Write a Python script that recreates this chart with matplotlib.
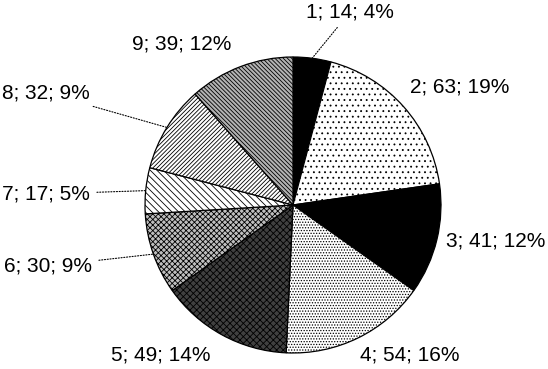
import numpy as np
import matplotlib
matplotlib.use("Agg")
import matplotlib.pyplot as plt

plt.rcParams['font.family'] = ['Liberation Sans', 'DejaVu Sans']
plt.rcParams['hatch.linewidth'] = 0.6

# data
categories = ['1', '2', '3', '4', '5', '6', '7', '8', '9']
values = [14, 63, 41, 54, 49, 30, 17, 32, 39]

# fill style per slice (pattern look of the original)
faces = ['black', 'white', 'black', 'white', '0.25', '0.75', 'white', 'white', '0.7']
hatches = [None, '...', None, '......', 'xxxxx', 'xxxxxx', '\\\\\\\\\\',
           '////////', '\\\\\\\\\\\\\\\\']

W, H = 548, 369
fig = plt.figure(figsize=(W / 100, H / 100), dpi=100)
ax = fig.add_axes([0, 0, 1, 1])

cx, cy, r = 293, H - 205, 148
wedges, _ = ax.pie(values, startangle=90, counterclock=False, center=(cx, cy),
                   radius=r, frame=True,
                   wedgeprops=dict(edgecolor='black', linewidth=0.9))
for w, fc, h in zip(wedges, faces, hatches):
    w.set_facecolor(fc)
    if h:
        w.set_hatch(h)
ax.set_xlim(0, W)
ax.set_ylim(0, H)
ax.set_aspect('equal')
ax.axis('off')

total = sum(values)
labels = [f"{c}; {v}; {round(100 * v / total)}%" for c, v in zip(categories, values)]

# label anchors in pixel coords from top-left: (x, y, ha, leader line)
label_pos = [(350, 12, 'center', True), (460, 87, 'center', False),
             (496, 241, 'center', False), (410, 355, 'center', False),
             (161, 355, 'center', False), (92, 266, 'right', True),
             (90, 194, 'right', True), (90, 93, 'right', True),
             (182, 44, 'center', False)]

cum = np.cumsum([0] + values)
for i, (lab, (tx, ty, ha, leader)) in enumerate(zip(labels, label_pos)):
    mid = (cum[i] + cum[i + 1]) / 2 / total * 2 * np.pi
    ex = cx + r * np.sin(mid)
    ey = cy + r * np.cos(mid)
    if leader:
        ax.annotate(lab, xy=(ex, ey), xytext=(tx, H - ty), ha=ha, va='center',
                    fontsize=15,
                    arrowprops=dict(arrowstyle='-', color='black', lw=0.8,
                                    linestyle=(0, (1, 1.5)), shrinkA=3, shrinkB=0))
    else:
        ax.text(tx, H - ty, lab, ha=ha, va='center', fontsize=15)

fig.savefig('out.png', dpi=100)
